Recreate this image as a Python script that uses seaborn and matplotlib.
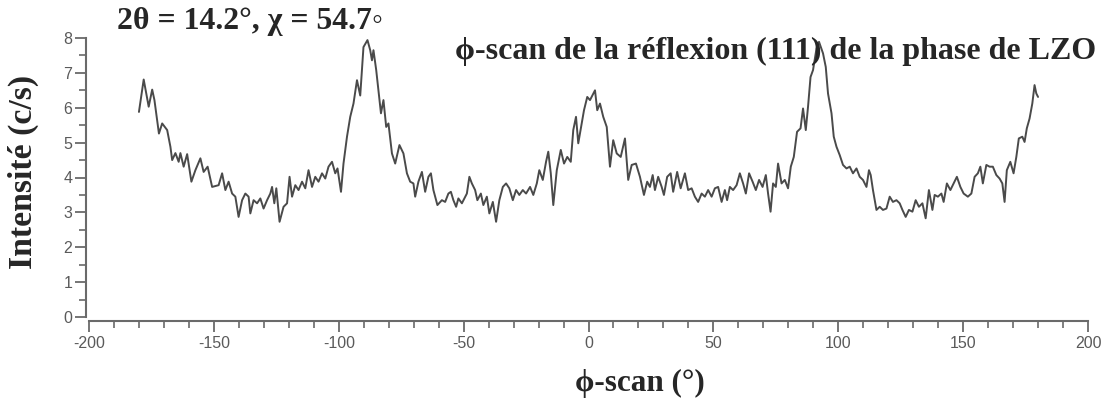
import numpy as np
import pandas as pd
import matplotlib
matplotlib.use("Agg")
import matplotlib.pyplot as plt
from matplotlib.ticker import MultipleLocator
import seaborn as sns

# phi-scan of the (111) reflection: angle (deg) and intensity (counts/s)
phi = [
    -180.0, -178.1, -176.1, -174.7, -173.8, -172.0, -170.7, -168.7, -167.4, -166.7,
    -165.4, -164.1, -163.4, -162.1, -160.7, -159.0, -157.4, -155.4, -154.1, -152.5,
    -150.7, -148.1, -146.7, -145.4, -144.1, -142.7, -141.4, -140.1, -138.7, -137.4,
    -136.1, -135.4, -134.1, -132.7, -131.4, -130.1, -128.7, -127.4, -126.7, -125.8,
    -125.0, -123.7, -122.1, -120.7, -119.7, -118.7, -117.4, -116.1, -114.7, -113.4,
    -112.1, -110.7, -109.4, -108.1, -106.7, -105.4, -104.1, -102.7, -101.4, -100.5,
    -99.1, -98.1, -96.7, -95.4, -94.1, -92.7, -91.4, -90.1, -88.5, -87.4,
    -86.7, -86.1, -85.0, -84.1, -83.1, -82.1, -81.0, -80.1, -78.7, -77.4,
    -75.7, -74.1, -72.7, -71.4, -70.1, -69.4, -68.1, -66.7, -65.4, -64.1,
    -63.1, -62.1, -60.5, -58.7, -57.4, -56.1, -55.1, -54.1, -53.0, -52.1,
    -50.7, -48.7, -47.7, -46.7, -45.4, -44.5, -43.1, -42.1, -40.7, -39.7,
    -38.3, -37.0, -35.7, -34.3, -33.0, -31.7, -30.3, -29.0, -27.7, -26.3,
    -25.0, -23.4, -22.1, -20.7, -19.7, -18.3, -17.0, -16.1, -15.1, -14.1,
    -12.7, -11.1, -9.8, -8.5, -7.1, -6.1, -5.0, -4.1, -2.7, -1.8,
    -0.5, 0.6, 2.6, 3.5, 4.6, 5.9, 7.3, 8.6, 9.9, 11.3,
    12.9, 14.6, 15.9, 17.3, 19.0, 20.6, 22.2, 23.5, 24.6, 25.7,
    26.6, 27.9, 29.3, 30.2, 31.5, 32.9, 33.9, 35.5, 36.9, 38.6,
    39.9, 41.3, 42.6, 43.9, 45.3, 46.6, 47.9, 49.3, 50.6, 51.9,
    53.3, 54.6, 55.5, 56.6, 57.9, 59.3, 60.6, 61.9, 63.0, 64.3,
    65.7, 67.0, 68.3, 69.7, 71.0, 71.9, 72.9, 73.9, 75.0, 75.9,
    77.3, 78.6, 79.9, 81.0, 82.2, 83.5, 84.9, 85.9, 87.0, 87.9,
    88.9, 89.9, 91.3, 92.3, 93.9, 95.0, 95.9, 97.3, 98.2, 99.3,
    100.6, 101.9, 103.3, 104.6, 105.9, 107.3, 108.6, 109.9, 111.3, 112.3,
    113.0, 113.9, 115.3, 116.6, 117.9, 119.3, 120.6, 121.9, 123.3, 124.6,
    125.7, 127.0, 128.3, 129.7, 131.0, 132.3, 133.7, 135.0, 136.3, 137.7,
    138.6, 139.9, 141.3, 142.2, 143.5, 144.9, 146.2, 147.5, 148.9, 150.2,
    151.9, 153.3, 154.6, 155.9, 156.9, 157.9, 159.3, 160.6, 161.9, 163.3,
    164.6, 165.7, 166.6, 167.5, 168.9, 170.2, 171.3, 172.3, 173.7, 174.6,
    175.5, 176.6, 177.7, 178.6, 179.3, 180.0,
]
intensity = [
    5.88, 6.81, 6.03, 6.52, 6.22, 5.26, 5.55, 5.36, 4.88, 4.50,
    4.70, 4.45, 4.70, 4.31, 4.67, 3.88, 4.21, 4.55, 4.16, 4.31,
    3.73, 3.78, 4.12, 3.64, 3.88, 3.54, 3.45, 2.87, 3.35, 3.54,
    3.45, 2.97, 3.35, 3.26, 3.40, 3.11, 3.35, 3.54, 3.73, 3.26,
    3.69, 2.73, 3.16, 3.26, 4.02, 3.45, 3.78, 3.64, 3.88, 3.69,
    4.21, 3.73, 4.02, 3.88, 4.12, 3.97, 4.31, 4.45, 4.12, 4.26,
    3.59, 4.40, 5.17, 5.74, 6.12, 6.79, 6.35, 7.74, 7.94, 7.65,
    7.36, 7.65, 7.08, 6.50, 5.84, 6.22, 5.45, 5.55, 4.69, 4.40,
    4.93, 4.69, 4.12, 3.88, 3.83, 3.45, 3.88, 4.16, 3.59, 4.02,
    4.12, 3.64, 3.21, 3.35, 3.30, 3.54, 3.59, 3.35, 3.16, 3.40,
    3.26, 3.54, 4.02, 3.83, 3.64, 3.35, 3.54, 3.21, 3.45, 2.97,
    3.30, 2.73, 3.35, 3.73, 3.83, 3.69, 3.35, 3.64, 3.50, 3.64,
    3.54, 3.73, 3.50, 3.83, 4.21, 3.93, 4.45, 4.74, 4.12, 3.21,
    4.21, 4.79, 4.40, 4.59, 4.45, 5.36, 5.74, 4.98, 5.55, 5.93,
    6.31, 6.22, 6.50, 5.93, 6.12, 5.74, 5.45, 4.31, 5.07, 4.69,
    4.59, 5.12, 3.93, 4.36, 4.40, 4.02, 3.50, 3.88, 3.73, 4.07,
    3.64, 4.02, 3.73, 3.50, 4.02, 4.12, 3.59, 4.16, 3.69, 4.12,
    3.64, 3.69, 3.45, 3.30, 3.54, 3.45, 3.64, 3.45, 3.69, 3.73,
    3.30, 3.64, 3.35, 3.73, 3.64, 3.78, 4.12, 3.83, 3.54, 4.12,
    3.88, 3.64, 3.93, 3.73, 4.07, 3.54, 3.02, 3.83, 3.73, 4.40,
    3.83, 3.93, 3.69, 4.31, 4.59, 5.31, 5.41, 5.98, 5.36, 6.03,
    6.88, 7.08, 7.70, 7.89, 7.56, 7.17, 6.41, 5.84, 5.17, 4.88,
    4.64, 4.36, 4.26, 4.31, 4.12, 4.26, 4.02, 3.93, 3.73, 4.21,
    4.07, 3.64, 3.07, 3.16, 3.07, 3.11, 3.45, 3.30, 3.35, 3.26,
    3.07, 2.87, 3.07, 3.02, 3.35, 3.16, 3.26, 2.83, 3.64, 3.07,
    3.50, 3.45, 3.54, 3.30, 3.83, 3.64, 3.83, 4.02, 3.73, 3.54,
    3.45, 3.54, 4.02, 4.12, 4.31, 3.83, 4.36, 4.31, 4.31, 4.07,
    3.97, 3.83, 3.30, 4.21, 4.45, 4.12, 4.59, 5.12, 5.17, 5.02,
    5.41, 5.69, 6.12, 6.65, 6.41, 6.31,
]

header_left = "2θ = 14.2°, χ = 54.7◦"
header_right = "ϕ-scan de la réflexion (111) de la phase de LZO"
x_label = "ϕ-scan (°)"
y_label = "Intensité (c/s)"

df = pd.DataFrame({"phi": phi, "intensity": intensity})

sns.set_style("ticks")
plt.rcParams["font.family"] = ["Liberation Sans Narrow", "Liberation Sans", "DejaVu Sans"]
plt.rcParams["axes.unicode_minus"] = False

W, H = 1106, 405
fig = plt.figure(figsize=(W / 100, H / 100), dpi=100)
ax = fig.add_axes([89 / W, 1 - 317 / H, 999 / W, 279 / H])

sns.lineplot(data=df, x="phi", y="intensity", sort=False, estimator=None,
             color="#4a4a4a", linewidth=1.4, ax=ax)

ax.set_xlim(-200, 200)
ax.set_ylim(0, 8)
ax.xaxis.set_major_locator(MultipleLocator(50))
ax.xaxis.set_minor_locator(MultipleLocator(10))
ax.yaxis.set_major_locator(MultipleLocator(1))
ax.yaxis.set_minor_locator(MultipleLocator(0.5))

axis_col = "#6a6a6a"
for side in ("top", "right"):
    ax.spines[side].set_visible(False)
for side in ("left", "bottom"):
    ax.spines[side].set_color(axis_col)
    ax.spines[side].set_linewidth(1.5)
ax.spines["left"].set_position(("outward", 2))
ax.spines["bottom"].set_position(("outward", 3))

ax.tick_params(which="major", direction="out", length=8, width=1.3,
               color=axis_col, labelcolor="#5a5a5a", labelsize=11.5)
ax.tick_params(which="minor", direction="out", length=5, width=1.2, color=axis_col)
ax.tick_params(axis="x", pad=3)
ax.tick_params(axis="y", pad=2)
ax.set_xlabel("")
ax.set_ylabel("")

serif = ["Liberation Serif", "DejaVu Serif"]
renderer = fig.canvas.get_renderer()


def fitted_text(x, y, s, width_px, rotation=0):
    t = fig.text(x / W, 1 - y / H, s, ha="center", va="center",
                 rotation=rotation, fontsize=20, fontweight="bold", family=serif)
    bb = t.get_window_extent(renderer)
    extent = bb.height if rotation else bb.width
    t.set_fontsize(20 * width_px / extent)
    return t


fitted_text(250, 21, header_left, 266)
fitted_text(776, 51, header_right, 643)
fitted_text(640, 383, x_label, 130)
fitted_text(23, 172, y_label, 195, rotation=90)

fig.savefig("out.png", dpi=100)
